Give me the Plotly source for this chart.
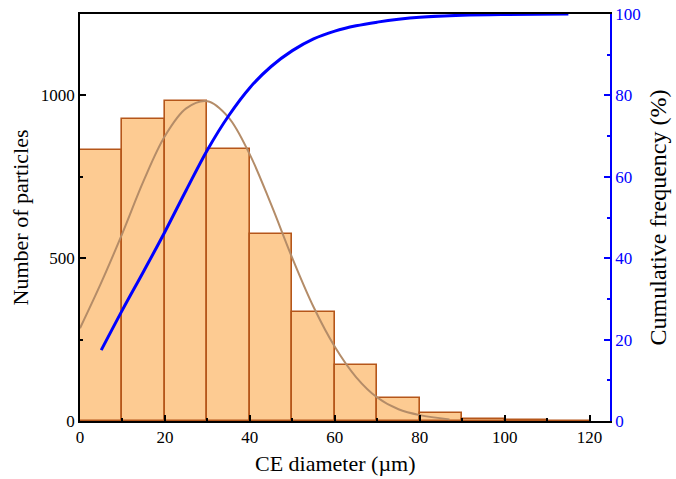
import plotly.graph_objects as go

# Histogramm: Klassenmitten (µm) und Anzahl
bin_mitten = [5, 15, 25, 35, 45, 55, 65, 75, 85, 95, 105, 115]
anzahl = [832, 927, 983, 836, 573, 334, 171, 72, 24, 6, 2, 1]

# Fit-Kurve
fit_x = [0, 5, 10, 15, 20, 25, 30, 35, 40, 45, 50, 55, 60, 65, 70, 75, 80, 87]
fit_y = [285, 425, 577, 738, 875, 960, 982, 932, 818, 665, 500, 350, 228, 135, 72, 36, 18, 5]

# Summenhäufigkeit in %
kum_x = [5, 10, 15, 20, 25, 30, 35, 40, 45, 50, 55, 60, 65, 70, 75, 80, 90, 100, 115]
kum_y = [17.4, 27.3, 36.8, 46.5, 56.7, 66.6, 75.0, 81.9, 87.1, 91.0, 93.9, 95.8, 97.1, 98.0, 98.7, 99.2, 99.7, 99.9, 100]

schrift = "Liberation Serif"
blau = "#0000FF"

fig = go.Figure()

fig.add_trace(go.Bar(
    x=bin_mitten, y=anzahl, width=10,
    marker=dict(color="#FDCB92", line=dict(color="#B5561A", width=1.6)),
    showlegend=False
))

fig.add_trace(go.Scatter(
    x=fit_x, y=fit_y, mode="lines", line=dict(color="#B48C68", width=2, shape="spline"),
    showlegend=False
))

fig.add_trace(go.Scatter(
    x=kum_x, y=kum_y, mode="lines", yaxis="y2",
    line=dict(color=blau, width=3, shape="spline"),
    showlegend=False
))

fig.update_layout(
    width=676, height=479,
    margin=dict(l=80, r=66, t=14, b=58),
    plot_bgcolor="white", paper_bgcolor="white",
    font=dict(family=schrift, size=17, color="black"),
    bargap=0,
    xaxis=dict(
        range=[0, 124.8], tickvals=[0, 20, 40, 60, 80, 100, 120],
        ticks="inside", ticklen=6, tickwidth=1.5, tickcolor="black",
        minor=dict(ticks="inside", ticklen=3, dtick=10, tick0=0, tickcolor="black"),
        showline=True, linecolor="black", linewidth=1.5, mirror=True,
        showgrid=False, zeroline=False, automargin=False,
    ),
    yaxis=dict(
        range=[0, 1250], tickvals=[0, 500, 1000],
        ticks="inside", ticklen=6, tickwidth=1.5, tickcolor="black",
        minor=dict(ticks="inside", ticklen=3, dtick=250, tick0=0, tickcolor="black"),
        showline=True, linecolor="black", linewidth=1.5,
        showgrid=False, zeroline=False, automargin=False,
        title=dict(text="Number of particles", font=dict(size=22), standoff=6),
    ),
    yaxis2=dict(
        overlaying="y", side="right",
        range=[0, 100], tickvals=[0, 20, 40, 60, 80, 100],
        ticks="inside", ticklen=6, tickwidth=1.5, tickcolor=blau,
        minor=dict(ticks="inside", ticklen=3, dtick=10, tick0=0, tickcolor=blau),
        tickfont=dict(color=blau),
        showline=True, linecolor=blau, linewidth=1.5,
        showgrid=False, zeroline=False, automargin=False,
        title=dict(text="Cumulative frequency (%)", font=dict(size=24, color="black"), standoff=10),
    ),
)

# x-Achsentitel etwas links von der Mitte, wie im Original
fig.add_annotation(
    text="CE diameter (µm)", xref="paper", yref="paper", x=0.483, y=-0.105,
    xanchor="center", yanchor="middle", showarrow=False, font=dict(size=22)
)

# Browser-Standardrand entfernen, damit das Bild genau 676x479 fuellt
fig.write_html("out.html", config={"displayModeBar": False},
               post_script="document.body.style.margin='0px';")
